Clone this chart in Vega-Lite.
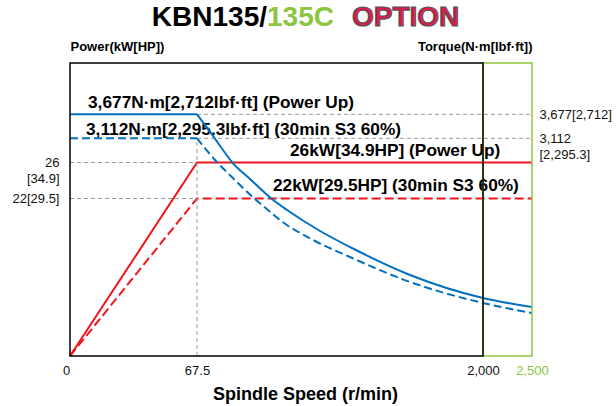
{
  "$schema": "https://vega.github.io/schema/vega-lite/v6.json",
  "width": 462,
  "height": 293,
  "autosize": "none",
  "padding": {"left": 70, "top": 63, "right": 84, "bottom": 50},
  "background": "white",
  "config": {"view": {"stroke": null}, "font": "Liberation Sans", "text": {"font": "Liberation Sans"}},
  "datasets": {
    "power": [
      {"series": "Power Up", "rpm": 0, "v": 0},
      {"series": "Power Up", "rpm": 67.5, "v": 26},
      {"series": "Power Up", "rpm": 2500, "v": 26},
      {"series": "30min S3 60%", "rpm": 0, "v": 0},
      {"series": "30min S3 60%", "rpm": 67.5, "v": 22},
      {"series": "30min S3 60%", "rpm": 2500, "v": 22}
    ],
    "torque": [
      {"series": "Power Up", "part": "flat", "rpm": 0, "v": 3677},
      {"series": "Power Up", "part": "flat", "rpm": 67.5, "v": 3677},
      {"series": "Power Up", "part": "curve", "rpm": 67.5, "v": 3677},
      {"series": "Power Up", "part": "curve", "rpm": 155, "v": 3270},
      {"series": "Power Up", "part": "curve", "rpm": 243, "v": 2945},
      {"series": "Power Up", "part": "curve", "rpm": 304, "v": 2773},
      {"series": "Power Up", "part": "curve", "rpm": 426, "v": 2530},
      {"series": "Power Up", "part": "curve", "rpm": 574, "v": 2244},
      {"series": "Power Up", "part": "curve", "rpm": 676, "v": 2087},
      {"series": "Power Up", "part": "curve", "rpm": 899, "v": 1787},
      {"series": "Power Up", "part": "curve", "rpm": 1101, "v": 1558},
      {"series": "Power Up", "part": "curve", "rpm": 1507, "v": 1158},
      {"series": "Power Up", "part": "curve", "rpm": 2000, "v": 829},
      {"series": "Power Up", "part": "curve", "rpm": 2500, "v": 700},
      {"series": "30min S3 60%", "part": "flat", "rpm": 0, "v": 3112},
      {"series": "30min S3 60%", "part": "flat", "rpm": 67.5, "v": 3112},
      {"series": "30min S3 60%", "part": "curve", "rpm": 67.5, "v": 3112},
      {"series": "30min S3 60%", "part": "curve", "rpm": 189, "v": 2802},
      {"series": "30min S3 60%", "part": "curve", "rpm": 324, "v": 2516},
      {"series": "30min S3 60%", "part": "curve", "rpm": 459, "v": 2244},
      {"series": "30min S3 60%", "part": "curve", "rpm": 547, "v": 2087},
      {"series": "30min S3 60%", "part": "curve", "rpm": 628, "v": 1944},
      {"series": "30min S3 60%", "part": "curve", "rpm": 865, "v": 1644},
      {"series": "30min S3 60%", "part": "curve", "rpm": 1101, "v": 1415},
      {"series": "30min S3 60%", "part": "curve", "rpm": 1507, "v": 1058},
      {"series": "30min S3 60%", "part": "curve", "rpm": 2000, "v": 758},
      {"series": "30min S3 60%", "part": "curve", "rpm": 2500, "v": 615}
    ],
    "powerRefs": [
      {"rpm": 0, "rpm2": 67.5, "v": 26},
      {"rpm": 0, "rpm2": 67.5, "v": 22}
    ],
    "torqueRefs": [
      {"rpm": 67.5, "rpm2": 2500, "v": 3677},
      {"rpm": 67.5, "rpm2": 2500, "v": 3112}
    ],
    "speedRef": [{"rpm": 67.5, "v": 0, "v2": 3112}],
    "frames": [
      {"frame": "standard", "rpm": 0, "rpm2": 2000},
      {"frame": "option", "rpm": 2000, "rpm2": 2500}
    ],
    "labels": [
      {"id": "t1", "rpm": 0, "v": 3677, "label": "3,677N·m[2,712lbf·ft] (Power Up)"},
      {"id": "t2", "rpm": 0, "v": 3112, "label": "3,112N·m[2,295.3lbf·ft] (30min S3 60%)"},
      {"id": "p1", "rpm": 67.5, "v": 26, "label": "26kW[34.9HP] (Power Up)"},
      {"id": "p2", "rpm": 67.5, "v": 22, "label": "22kW[29.5HP] (30min S3 60%)"}
    ],
    "heading": [
      {"id": "model", "rpm": 67.5, "v": 3677, "label": "KBN135/"},
      {"id": "variant", "rpm": 67.5, "v": 3677, "label": "135C"},
      {"id": "option", "rpm": 67.5, "v": 3677, "label": "OPTION"}
    ]
  },
  "encoding": {
    "x": {
      "field": "rpm",
      "type": "quantitative",
      "scale": {"domain": [0, 67.5, 2000, 2500], "range": [0, 127, 413, 462], "nice": false, "zero": false},
      "axis": {
        "values": [0, 67.5, 2000, 2500],
        "labelExpr": "datum.value == 67.5 ? '67.5' : format(datum.value, ',')",
        "ticks": false,
        "tickSize": 0,
        "domain": false,
        "grid": false,
        "labelFlush": false,
        "labelOverlap": false,
        "labelFontSize": 13,
        "labelPadding": 8,
        "labelColor": {"condition": {"test": "datum.value == 2500", "value": "#8cc63f"}, "value": "#111111"},
        "labelOffset": {"condition": {"test": "datum.value == 0", "value": -4}, "value": 0},
        "title": "Spindle Speed (r/min)",
        "titleFontSize": 18,
        "titleFontWeight": "bold",
        "titleColor": "#000000",
        "titleX": 235,
        "titleY": 38,
        "titleAlign": "center",
        "titleBaseline": "middle"
      }
    }
  },
  "layer": [
    {
      "encoding": {
        "y": {
          "field": "v",
          "type": "quantitative",
          "scale": {"domain": [0, 22, 26], "range": [293, 135.5, 99.5], "nice": false, "zero": false},
          "axis": {
            "values": [22, 26],
            "labelExpr": "datum.value == 26 ? ['26', '[34.9]'] : '22[29.5]'",
            "ticks": false,
            "tickSize": 0,
            "domain": false,
            "grid": false,
            "labelFontSize": 13,
            "labelLineHeight": 16,
            "labelPadding": 11,
            "labelColor": "#111111",
            "title": "Power(kW[HP])",
            "titleAngle": 0,
            "titleAlign": "left",
            "titleBaseline": "middle",
            "titleX": 0,
            "titleY": -17,
            "titleFontSize": 13,
            "titleFontWeight": "bold",
            "titleColor": "#000000"
          }
        }
      },
      "layer": [
        {
          "data": {"name": "powerRefs"},
          "mark": {"type": "rule", "color": "#9a9a9a", "strokeWidth": 1, "strokeDash": [4, 3]},
          "encoding": {"x2": {"field": "rpm2"}}
        },
        {
          "data": {"name": "labels"},
          "transform": [{"filter": "datum.id == 'p1'"}],
          "mark": {"type": "text", "align": "left", "baseline": "middle", "fontSize": 17.3, "fontWeight": "bold", "color": "#000000", "dx": 93, "dy": -12},
          "encoding": {"text": {"field": "label"}}
        },
        {
          "data": {"name": "labels"},
          "transform": [{"filter": "datum.id == 'p2'"}],
          "mark": {"type": "text", "align": "left", "baseline": "middle", "fontSize": 17.3, "fontWeight": "bold", "color": "#000000", "dx": 76, "dy": -12.5},
          "encoding": {"text": {"field": "label"}}
        },
        {
          "data": {"name": "power"},
          "transform": [{"filter": "datum.series == '30min S3 60%'"}],
          "mark": {"type": "line", "color": "#f0141e", "strokeWidth": 2, "strokeDash": [9, 4]},
          "encoding": {}
        },
        {
          "data": {"name": "power"},
          "transform": [{"filter": "datum.series == 'Power Up'"}],
          "mark": {"type": "line", "color": "#f0141e", "strokeWidth": 2},
          "encoding": {}
        }
      ]
    },
    {
      "encoding": {
        "y": {
          "field": "v",
          "type": "quantitative",
          "scale": {"domain": [0, 3112, 3677], "range": [293, 75.3, 51.3], "nice": false, "zero": false},
          "axis": {
            "orient": "right",
            "values": [3112, 3677],
            "labelExpr": "datum.value == 3677 ? '3,677[2,712]' : ['3,112', '[2,295.3]']",
            "ticks": false,
            "tickSize": 0,
            "domain": false,
            "grid": false,
            "labelFontSize": 13,
            "labelLineHeight": 16,
            "labelPadding": 7,
            "labelAlign": "left",
            "labelColor": "#111111",
            "title": "Torque(N·m[lbf·ft])",
            "titleAngle": 0,
            "titleAlign": "right",
            "titleBaseline": "middle",
            "titleX": 0,
            "titleY": -17,
            "titleFontSize": 13,
            "titleFontWeight": "bold",
            "titleColor": "#000000"
          }
        }
      },
      "layer": [
        {
          "data": {"name": "torqueRefs"},
          "mark": {"type": "rule", "color": "#9a9a9a", "strokeWidth": 1, "strokeDash": [4, 3]},
          "encoding": {"x2": {"field": "rpm2"}}
        },
        {
          "data": {"name": "speedRef"},
          "mark": {"type": "rule", "color": "#9a9a9a", "strokeWidth": 1, "strokeDash": [4, 3]},
          "encoding": {"y2": {"field": "v2"}}
        },
        {
          "data": {"name": "labels"},
          "transform": [{"filter": "datum.id == 't1'"}],
          "mark": {"type": "text", "align": "left", "baseline": "middle", "fontSize": 17.3, "fontWeight": "bold", "color": "#000000", "dx": 18, "dy": -11.5},
          "encoding": {"text": {"field": "label"}}
        },
        {
          "data": {"name": "labels"},
          "transform": [{"filter": "datum.id == 't2'"}],
          "mark": {"type": "text", "align": "left", "baseline": "middle", "fontSize": 17.3, "fontWeight": "bold", "color": "#000000", "dx": 16, "dy": -8.5},
          "encoding": {"text": {"field": "label"}}
        },
        {
          "data": {"name": "torque"},
          "transform": [{"filter": "datum.series == '30min S3 60%'"}],
          "mark": {"type": "line", "color": "#0070c0", "strokeWidth": 2, "strokeDash": [8, 4], "interpolate": "monotone"},
          "encoding": {"detail": {"field": "part"}}
        },
        {
          "data": {"name": "torque"},
          "transform": [{"filter": "datum.series == 'Power Up'"}],
          "mark": {"type": "line", "color": "#0070c0", "strokeWidth": 2, "interpolate": "monotone"},
          "encoding": {"detail": {"field": "part"}}
        },
        {
          "data": {"name": "heading"},
          "transform": [{"filter": "datum.id == 'model'"}],
          "mark": {"type": "text", "align": "right", "baseline": "middle", "fontSize": 28, "fontWeight": "bold", "color": "#000000", "dx": 70, "dy": -96},
          "encoding": {"text": {"field": "label"}}
        },
        {
          "data": {"name": "heading"},
          "transform": [{"filter": "datum.id == 'variant'"}],
          "mark": {"type": "text", "align": "left", "baseline": "middle", "fontSize": 28, "fontWeight": "bold", "color": "#8cc63f", "dx": 70, "dy": -96},
          "encoding": {"text": {"field": "label"}}
        },
        {
          "data": {"name": "heading"},
          "transform": [{"filter": "datum.id == 'option'"}],
          "mark": {"type": "text", "align": "left", "baseline": "middle", "fontSize": 28, "fontWeight": "bold", "color": "#e3194b", "stroke": "#555555", "strokeWidth": 1.2, "dx": 155, "dy": -96},
          "encoding": {"text": {"field": "label"}}
        },
        {
          "data": {"name": "frames"},
          "transform": [{"filter": "datum.frame == 'option'"}],
          "mark": {"type": "rect", "fill": null, "fillOpacity": 0, "stroke": "#8cc63f", "strokeWidth": 1.5},
          "encoding": {"x2": {"field": "rpm2"}, "y": {"value": 0}, "y2": {"value": 293}}
        },
        {
          "data": {"name": "frames"},
          "transform": [{"filter": "datum.frame == 'standard'"}],
          "mark": {"type": "rect", "fill": null, "fillOpacity": 0, "stroke": "#000000", "strokeWidth": 1.5},
          "encoding": {"x2": {"field": "rpm2"}, "y": {"value": 0}, "y2": {"value": 293}}
        }
      ]
    }
  ],
  "resolve": {"scale": {"y": "independent"}}
}
